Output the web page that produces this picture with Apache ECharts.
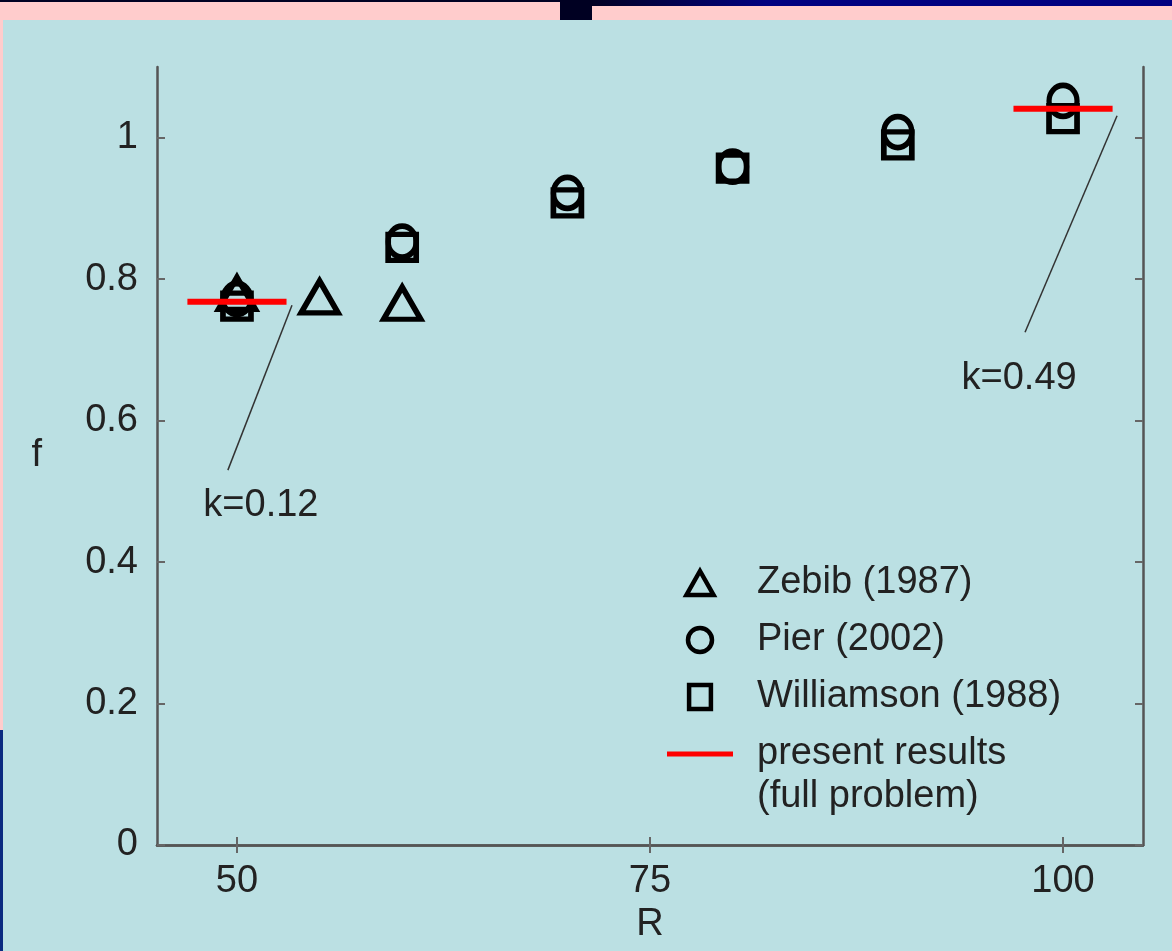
<!DOCTYPE html>
<html>
<head>
<meta charset="utf-8">
<script src="https://cdn.jsdelivr.net/npm/echarts@6/dist/echarts.min.js"></script>
<style>
html,body{margin:0;padding:0;background:#bbe0e3;}
#chart{width:1172px;height:951px;}
</style>
</head>
<body>
<div id="chart"></div>
<script>
// ---- data ----
const xTicks = [50, 75, 100];
const yTicks = [0, 0.2, 0.4, 0.6, 0.8, 1];

const zebibR = [50, 55, 60];
const zebibF = [0.780, 0.775, 0.766];

const pierR = [50, 60, 70, 80, 90, 100];
const pierF = [0.772, 0.853, 0.922, 0.959, 1.008, 1.052];

const williamsonR = [50, 60, 70, 80, 90, 100];
const williamsonF = [0.762, 0.845, 0.908, 0.957, 0.990, 1.027];

// present results: horizontal segments (R from, R to, f)
const presentFrom = [47, 97];
const presentTo = [53, 103];
const presentF = [0.768, 1.041];

// annotation leader lines and labels
const annoText = ['k=0.12', 'k=0.49'];
const annoLineStartR = [53.33, 103.27];
const annoLineStartF = [0.763, 1.031];
const annoLineEndR = [49.45, 97.7];
const annoLineEndF = [0.53, 0.725];
const annoLabelR = [51.45, 97.34];
const annoLabelF = [0.48, 0.66];

const seriesNames = ['Zebib (1987)', 'Pier (2002)', 'Williamson (1988)', 'present results'];

// ---- chart ----
const FONT = 'Liberation Sans, Arial, Helvetica, sans-serif';
const TXT = '#222';
const chart = echarts.init(document.getElementById('chart'), null, {renderer: 'canvas'});

const zip = (a, b) => a.map((v, i) => [v, b[i]]);

const xMin = 45.16, xMax = 104.84, yMin = 0, yMax = 1.1;

const axisLineStyle = {color: '#555', width: 2.5};
const tickStyle = {show: true, inside: true, length: 8, lineStyle: {color: '#666', width: 2}};

const markerStyle = {color: 'none', borderColor: '#000', borderWidth: 5.5, opacity: 1};

const series = [];
series.push({
  name: seriesNames[0], type: 'scatter', symbol: 'triangle', symbolSize: [37, 32],
  itemStyle: markerStyle, data: zip(zebibR, zebibF), z: 3
});
series.push({
  name: seriesNames[1], type: 'scatter', symbol: 'circle', symbolSize: [28, 31],
  itemStyle: markerStyle, data: zip(pierR, pierF), z: 3
});
series.push({
  name: seriesNames[2], type: 'scatter', symbol: 'rect', symbolSize: [28, 26],
  itemStyle: markerStyle, data: zip(williamsonR, williamsonF), z: 3
});
presentF.forEach((f, i) => {
  series.push({
    name: seriesNames[3], type: 'line', showSymbol: false, symbol: 'none',
    lineStyle: {color: '#ff0000', width: 6}, itemStyle: {color: '#ff0000'},
    data: [[presentFrom[i], f], [presentTo[i], f]], z: 5, silent: true
  });
});
annoText.forEach((t, i) => {
  series.push({
    name: 'annotation ' + t, type: 'line', showSymbol: false, symbol: 'none',
    lineStyle: {color: '#333', width: 1.5}, silent: true,
    data: [[annoLineStartR[i], annoLineStartF[i]], [annoLineEndR[i], annoLineEndF[i]]], z: 2
  });
});
series.push({
  name: 'labels', type: 'scatter', symbolSize: 0, silent: true,
  itemStyle: {opacity: 1},
  label: {show: true, position: 'inside', formatter: p => p.name,
          fontFamily: FONT, fontSize: 38, color: TXT},
  data: annoText.map((t, i) => ({name: t, value: [annoLabelR[i], annoLabelF[i]]}))
});

const legendIconStyle = {color: 'none', borderColor: '#000', borderWidth: 4.5, opacity: 1};

chart.setOption({
  backgroundColor: '#bbe0e3',
  animation: false,
  grid: {left: 157, top: 67, right: 29, bottom: 106, containLabel: false},
  xAxis: [{
    type: 'value', min: xMin, max: xMax, position: 'bottom',
    name: 'R', nameLocation: 'middle', nameGap: 60,
    nameTextStyle: {fontFamily: FONT, fontSize: 38, color: TXT},
    axisLine: {show: true, lineStyle: axisLineStyle},
    axisTick: Object.assign({customValues: xTicks}, tickStyle),
    axisLabel: {customValues: xTicks, fontFamily: FONT, fontSize: 38, color: TXT, margin: 18},
    splitLine: {show: false}
  }, {
    type: 'value', min: xMin, max: xMax, position: 'top',
    axisLine: {show: true, lineStyle: axisLineStyle},
    axisTick: Object.assign({customValues: xTicks}, tickStyle),
    axisLabel: {show: false}, splitLine: {show: false}
  }],
  yAxis: [{
    type: 'value', min: yMin, max: yMax, position: 'left',
    name: 'f', nameLocation: 'middle', nameGap: 115, nameRotate: 0,
    nameTextStyle: {fontFamily: FONT, fontSize: 38, color: TXT},
    axisLine: {show: true, lineStyle: axisLineStyle},
    axisTick: Object.assign({customValues: yTicks}, tickStyle),
    axisLabel: {customValues: yTicks, fontFamily: FONT, fontSize: 38, color: TXT, margin: 19,
                formatter: v => String(Math.round(v * 10) / 10)},
    splitLine: {show: false}
  }, {
    type: 'value', min: yMin, max: yMax, position: 'right',
    axisLine: {show: true, lineStyle: axisLineStyle},
    axisTick: Object.assign({customValues: yTicks}, tickStyle),
    axisLabel: {show: false}, splitLine: {show: false}
  }],
  legend: {
    data: [
      {name: seriesNames[0], icon: 'path://M13,0 L26,23 L0,23 Z', itemStyle: legendIconStyle},
      {name: seriesNames[1], icon: 'circle', itemStyle: legendIconStyle},
      {name: seriesNames[2], icon: 'path://M0,0 L20,0 L20,22 L0,22 Z', itemStyle: legendIconStyle},
      {name: seriesNames[3], icon: 'path://M0,0 L66,0 L66,5 L0,5 Z',
       itemStyle: {color: '#ff0000', borderWidth: 0, opacity: 1}}
    ],
    orient: 'vertical', left: 662, top: 558,
    itemWidth: 66, itemHeight: 24, itemGap: 17,
    symbolKeepAspect: true,
    selectedMode: false,
    textStyle: {fontFamily: FONT, fontSize: 38, color: TXT, lineHeight: 40, padding: [0, 0, 0, 19]}
  },
  graphic: [
    {type: 'rect', shape: {x: 0, y: 0, width: 1172, height: 20}, style: {fill: '#ffcccc'}, z: -10},
    {type: 'rect', shape: {x: 0, y: 0, width: 560, height: 2}, style: {fill: '#000022'}, z: -9},
    {type: 'rect', shape: {x: 560, y: 0, width: 32, height: 20}, style: {fill: '#000022'}, z: -9},
    {type: 'rect', shape: {x: 592, y: 0, width: 580, height: 6},
     style: {fill: new echarts.graphic.LinearGradient(0, 0, 1, 0, [{offset: 0, color: '#000022'}, {offset: 0.3, color: '#000080'}, {offset: 1, color: '#000080'}])}, z: -9},
    {type: 'rect', shape: {x: 0, y: 20, width: 3, height: 710}, style: {fill: '#ffcccc'}, z: -9},
    {type: 'rect', shape: {x: 0, y: 730, width: 3, height: 221}, style: {fill: '#0a2a80'}, z: -9},
    {type: 'text', left: 757, top: 778,
     style: {text: '(full problem)', font: '38px ' + FONT, fill: TXT}}
  ],
  series: series
});
</script>
</body>
</html>
